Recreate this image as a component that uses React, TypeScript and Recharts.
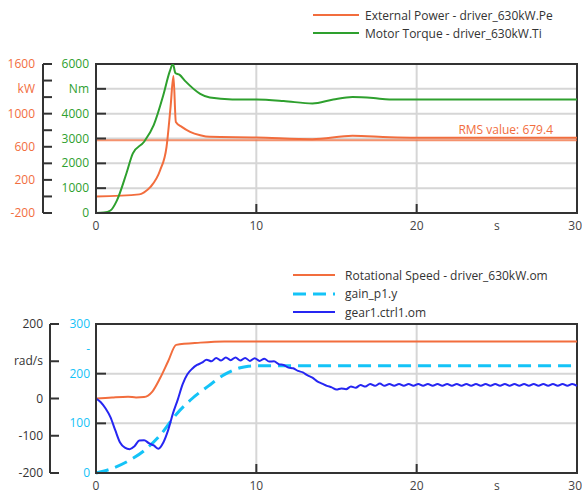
import {
  LineChart,
  Line,
  XAxis,
  YAxis,
  CartesianGrid,
  ReferenceLine,
  ReferenceArea,
  Legend,
} from "recharts";

const FONT = "'Open Sans', 'Noto Sans', sans-serif";
const ORANGE = "#F26D3D";
const GREEN = "#2EA02E";
const CYAN = "#14C3F7";
const BLUE = "#2626F2";
const DARK = "#333333";
const GRID = "#D6D6D6";

// --- top chart: power / torque over time (s)
const powerTime = [0, 2.7, 3.0, 3.4, 4.0, 4.4, 4.65, 4.83, 4.98, 5.35, 5.87, 6.5, 7.1, 10, 13.5, 16, 18.3, 20, 30];
const powerKw = [0, 25, 50, 115, 317, 600, 1080, 1455, 900, 840, 780, 740, 720, 712, 692, 732, 715, 710, 710];

const torqueTime = [0, 0.5, 0.9, 1.3, 1.9, 2.3, 3.0, 3.6, 4.2, 4.6, 4.8, 4.95, 5.2, 5.6, 6.5, 7.1, 8.5, 10, 11.7, 13.5, 14.8, 16, 17.3, 18.3, 20, 30];
const torqueNm = [0, 20, 100, 500, 1600, 2400, 2870, 3540, 4750, 5700, 6000, 5640, 5570, 5290, 4800, 4650, 4575, 4570, 4510, 4410, 4570, 4670, 4630, 4570, 4575, 4575];

const rmsPower = 679.4;

// --- bottom chart: speeds
const speedTime = [0, 1, 2, 2.5, 3, 3.5, 4, 4.5, 5, 6.5, 8, 30];
const speedRad = [0, 3, 5, 3, 4, 18, 55, 100, 144, 150, 153, 153];

const gainTime = [0, 1, 2, 3, 4, 5, 6, 7, 8, 9, 9.5, 10, 30];
const gainValue = [0, 9, 24, 45, 76, 118, 150, 175, 198, 212, 215, 216, 216];

// sampled every 0.3 s
const GEAR_STEP = 0.3;
const gearRad = [
  0, -10, -27, -50, -85, -118, -132, -136, -128, -113,
  -112, -120, -126, -135, -118, -85, -40, -3, 38, 65,
  80, 90, 96, 104, 100, 109, 102, 110, 103, 110,
  102, 109, 101, 108, 101, 107, 99, 100, 92, 90,
  83, 81, 74, 70, 62, 56, 46, 40, 34, 30,
  24, 27, 25, 32, 29, 36, 32, 39, 34, 40,
  34, 39, 34, 39, 34, 39, 34, 39, 34, 39,
  34, 39, 34, 39, 34, 39, 34, 39, 34, 39,
  34, 39, 34, 39, 34, 39, 34, 39, 34, 39,
  34, 39, 34, 39, 34, 39, 34, 39, 34, 39,
  34,
];

// --- axes
const xTicks = [0, 10, 20, 25, 30];
const X_UNIT_AT = 25;
const X_MAX = 30;

const kwTicks = [-200, 0, 200, 400, 600, 800, 1000, 1200, 1300, 1400, 1600];
const kwLabels: Record<string, string> = { "-200": "-200", "200": "200", "600": "600", "1000": "1000", "1300": "kW", "1600": "1600" };
const kwMarks = [-200, 0, 200, 400, 600, 800, 1000, 1200, 1400, 1600];

const nmTicks = [0, 1000, 2000, 3000, 4000, 5000, 6000];
const nmLabels: Record<string, string> = { "0": "0", "1000": "1000", "2000": "2000", "3000": "3000", "4000": "4000", "5000": "Nm", "6000": "6000" };

const radTicks = [-200, -100, 0, 100, 200];
const radLabels: Record<string, string> = { "-200": "-200", "-100": "-100", "0": "0", "100": "rad/s", "200": "200" };

const cyanTicks = [0, 100, 200, 250, 300];
const cyanLabels: Record<string, string> = { "0": "0", "100": "100", "200": "200", "250": "-", "300": "300" };
const cyanMarks = [100, 200];

const zip = (ts: number[], vs: number[]) => ts.map((t, i) => ({ t, v: vs[i] }));
const powerData = zip(powerTime, powerKw);
const torqueData = zip(torqueTime, torqueNm);
const speedData = zip(speedTime, speedRad);
const gainData = zip(gainTime, gainValue);
const gearData = gearRad.map((v, i) => ({ t: +(i * GEAR_STEP).toFixed(1), v }));

type TickProps = { x?: number; y?: number; payload?: { value: number } };

const makeYTick =
  (labels: Record<string, string>, marks: number[], color: string, margin: number, markLen: number) =>
  (props: TickProps) => {
    const { x = 0, y = 0, payload } = props;
    const v = payload ? payload.value : 0;
    const axisX = x + margin;
    const label = labels[String(v)];
    return (
      <g>
        {marks.includes(v) && (
          <line x1={axisX} x2={axisX + markLen} y1={y} y2={y} stroke={DARK} strokeWidth={2} />
        )}
        {label !== undefined && (
          <text x={x} y={y} dy={4} textAnchor="end" fill={color} fontSize={12} fontFamily={FONT}>
            {label}
          </text>
        )}
      </g>
    );
  };

const XTick = (props: TickProps) => {
  const { x = 0, y = 0, payload } = props;
  const v = payload ? payload.value : 0;
  const isUnit = v === X_UNIT_AT;
  const isLast = v === X_MAX;
  return (
    <g>
      {!isUnit && <line x1={x} x2={x} y1={y} y2={y - 9} stroke={DARK} strokeWidth={2} />}
      <text
        x={isLast ? x + 5 : x}
        y={y + 17}
        textAnchor={isLast ? "end" : "middle"}
        fill="#444"
        fontSize={12}
        fontFamily={FONT}
      >
        {isUnit ? "s" : v}
      </text>
    </g>
  );
};

type LegendItem = { name: string; color: string; width: number; dash?: string };

const LegendBlock = ({ items, left, top, lineLen, gap, rowHeight }: { items: LegendItem[]; left: number; top: number; lineLen: number; gap: number; rowHeight: number }) => (
  <div style={{ position: "absolute", left, top, fontFamily: FONT, fontSize: 12, color: DARK, whiteSpace: "nowrap" }}>
    {items.map((it) => (
      <div key={it.name} style={{ display: "flex", alignItems: "center", height: rowHeight }}>
        <svg width={lineLen} height={6} style={{ display: "block" }}>
          <line x1={0} x2={lineLen} y1={3} y2={3} stroke={it.color} strokeWidth={it.width} strokeDasharray={it.dash} />
        </svg>
        <span style={{ marginLeft: gap }}>{it.name}</span>
      </div>
    ))}
  </div>
);

const topLegend: LegendItem[] = [
  { name: "External Power - driver_630kW.Pe", color: ORANGE, width: 2 },
  { name: "Motor Torque - driver_630kW.Ti", color: GREEN, width: 2 },
];
const bottomLegend: LegendItem[] = [
  { name: "Rotational Speed - driver_630kW.om", color: ORANGE, width: 2 },
  { name: "gain_p1.y", color: CYAN, width: 3, dash: "13 7" },
  { name: "gear1.ctrl1.om", color: BLUE, width: 2 },
];

const RmsLabel = (props: { viewBox?: { x: number; y: number; width: number } }) => {
  const vb = props.viewBox || { x: 0, y: 0, width: 0 };
  return (
    <text x={vb.x + vb.width - 24} y={vb.y - 6} textAnchor="end" fill={ORANGE} fontSize={12} fontFamily={FONT}>
      RMS value: {rmsPower}
    </text>
  );
};

const WIDTH = 574;

export default function App() {
  return (
    <div style={{ width: 582, height: 493, padding: "8px 0 0 8px", boxSizing: "border-box", overflow: "hidden" }}>
      <style>{"body { margin: 0; }"}</style>
      <LineChart width={WIDTH} height={240} margin={{ top: 56, right: 5, bottom: 0, left: 0 }}>
        <CartesianGrid yAxisId="axisA" stroke={GRID} strokeWidth={2} horizontalValues={[1000, 2000, 3000, 4000, 5000]} verticalValues={[10, 20]} />
        <XAxis dataKey="t" type="number" domain={[0, 30]} ticks={xTicks} interval={0} height={35} tickSize={0} tickMargin={0} tick={XTick} axisLine={{ stroke: DARK, strokeWidth: 2 }} />
        <YAxis yAxisId="axisA" type="number" domain={[0, 6000]} ticks={nmTicks} interval={0} width={53} tickSize={0} tickMargin={7} tickLine={false} tick={makeYTick(nmLabels, nmTicks, GREEN, 7, 10)} axisLine={{ stroke: DARK, strokeWidth: 2 }} allowDataOverflow />
        <YAxis yAxisId="axisB" type="number" domain={[-200, 1600]} ticks={kwTicks} interval={0} width={35} tickSize={0} tickMargin={8} tickLine={false} tick={makeYTick(kwLabels, kwMarks, ORANGE, 8, 9)} axisLine={{ stroke: DARK, strokeWidth: 2 }} />
        <ReferenceArea yAxisId="axisA" x1={0} x2={30} y1={0} y2={6000} fill="none" stroke={DARK} strokeWidth={2} />
        <ReferenceLine yAxisId="axisB" y={rmsPower} stroke={ORANGE} strokeOpacity={0.75} strokeWidth={2} label={<RmsLabel />} />
        <Line data={powerData} dataKey="v" yAxisId="axisB" type="monotone" stroke={ORANGE} strokeWidth={2} dot={false} isAnimationActive={false} />
        <Line data={torqueData} dataKey="v" yAxisId="axisA" type="monotone" stroke={GREEN} strokeWidth={2} dot={false} isAnimationActive={false} />
        <Legend
          layout="horizontal"
          verticalAlign="middle"
          align="center"
          wrapperStyle={{ left: 0, top: 0, width: WIDTH, height: 0 }}
          content={() => <LegendBlock items={topLegend} left={305} top={-2} lineLen={46} gap={6} rowHeight={18} />}
        />
      </LineChart>
      <LineChart width={WIDTH} height={245} margin={{ top: 76, right: 5, bottom: 0, left: 0 }}>
        <CartesianGrid yAxisId="axisA" stroke={GRID} strokeWidth={2} horizontalValues={[100, 200]} verticalValues={[10, 20]} />
        <XAxis dataKey="t" type="number" domain={[0, 30]} ticks={xTicks} interval={0} height={20} tickSize={0} tickMargin={0} tick={XTick} axisLine={{ stroke: DARK, strokeWidth: 2 }} />
        <YAxis yAxisId="axisA" type="number" domain={[0, 300]} ticks={cyanTicks} interval={0} width={46} tickSize={0} tickMargin={6} tickLine={false} tick={makeYTick(cyanLabels, cyanMarks, CYAN, 6, 10)} axisLine={{ stroke: DARK, strokeWidth: 2 }} />
        <YAxis yAxisId="axisB" type="number" domain={[-200, 200]} ticks={radTicks} interval={0} width={42} tickSize={0} tickMargin={7} tickLine={false} tick={makeYTick(radLabels, radTicks, DARK, 7, 9)} axisLine={{ stroke: DARK, strokeWidth: 2 }} />
        <ReferenceArea yAxisId="axisA" x1={0} x2={30} y1={0} y2={300} fill="none" stroke={DARK} strokeWidth={2} />
        <Line data={speedData} dataKey="v" yAxisId="axisB" type="monotone" stroke={ORANGE} strokeWidth={2} dot={false} isAnimationActive={false} />
        <Line data={gainData} dataKey="v" yAxisId="axisA" type="monotone" stroke={CYAN} strokeWidth={3} strokeDasharray="13 7" dot={false} isAnimationActive={false} />
        <Line data={gearData} dataKey="v" yAxisId="axisB" type="monotone" stroke={BLUE} strokeWidth={2} dot={false} isAnimationActive={false} />
        <Legend
          layout="horizontal"
          verticalAlign="middle"
          align="center"
          wrapperStyle={{ left: 0, top: 0, width: WIDTH, height: 0 }}
          content={() => <LegendBlock items={bottomLegend} left={285} top={18} lineLen={42} gap={10} rowHeight={18.5} />}
        />
      </LineChart>
    </div>
  );
}
